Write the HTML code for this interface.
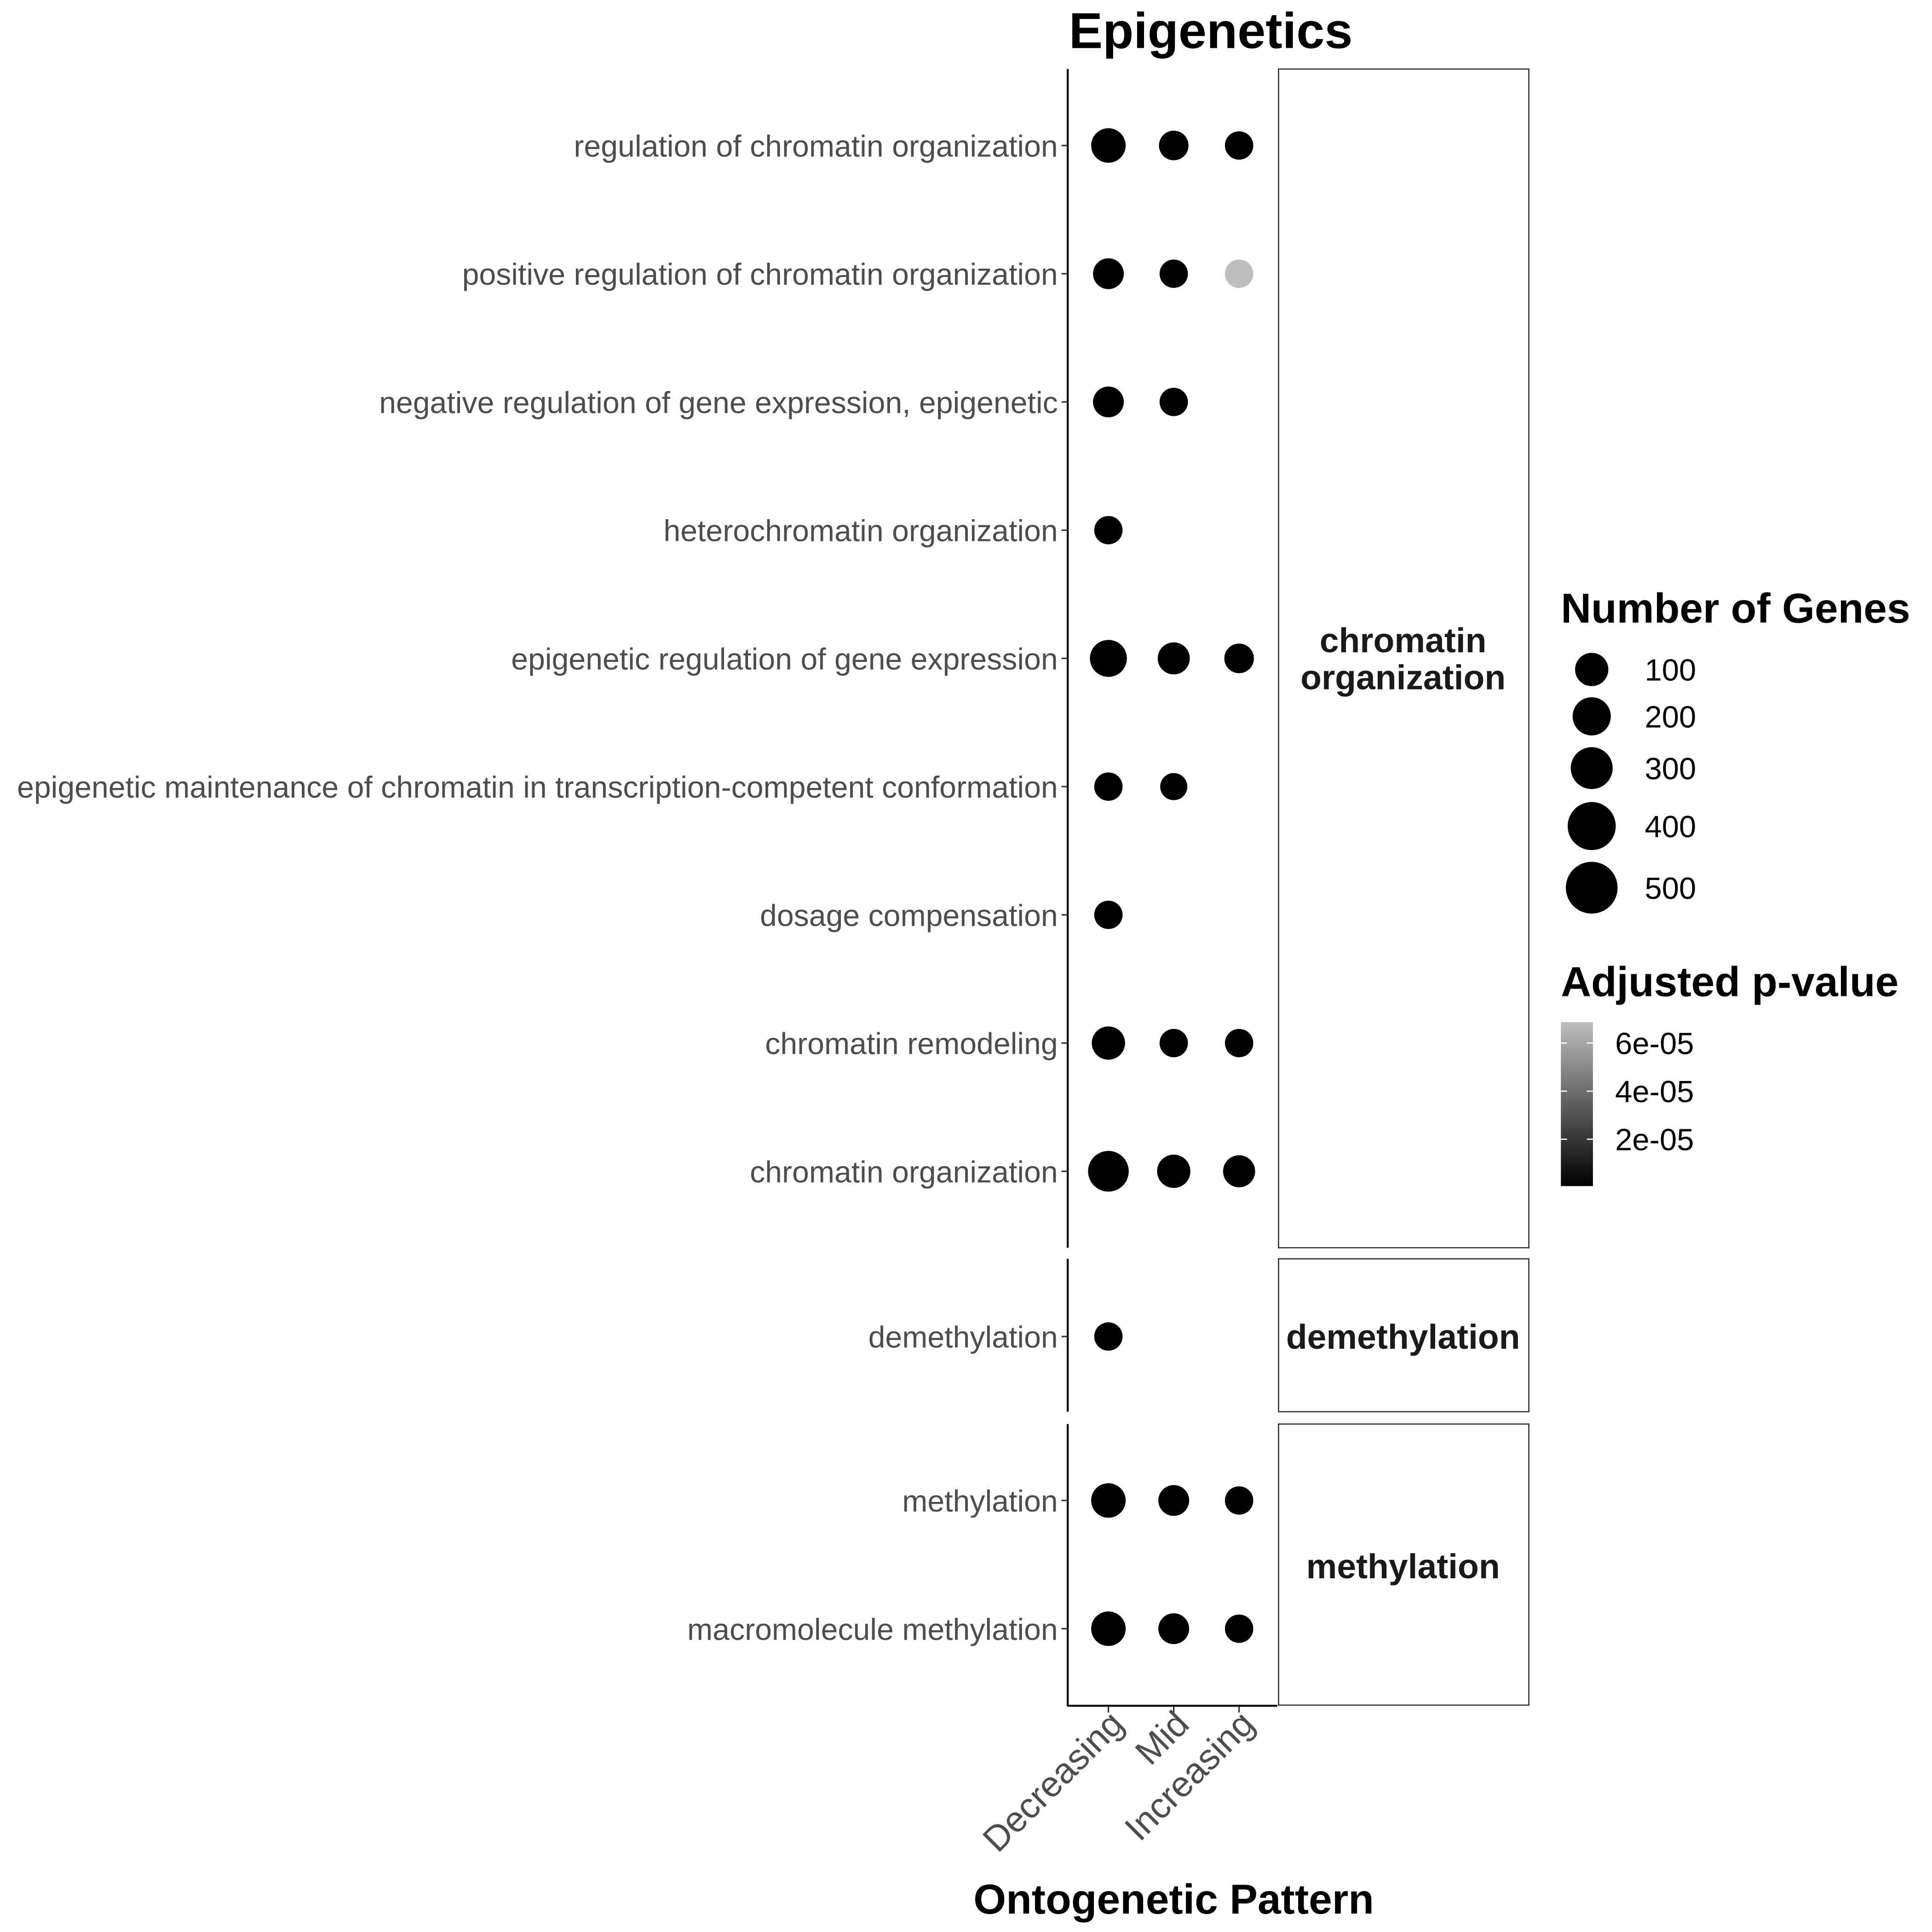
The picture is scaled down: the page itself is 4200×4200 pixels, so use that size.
<!DOCTYPE html>
<html><head><meta charset="utf-8"><style>html,body{margin:0;padding:0;background:#fff}svg{display:block}</style></head>
<body>
<svg xmlns="http://www.w3.org/2000/svg" width="4200" height="4200" viewBox="0 0 1567 1567" font-family="'Liberation Sans', Arial, sans-serif">
<defs><linearGradient id="g" x1="0" y1="1" x2="0" y2="0"><stop offset="0" stop-color="#000"/><stop offset="1" stop-color="#bebebe"/></linearGradient></defs>
<rect width="1567" height="1567" fill="#fff"/>
<text x="867" y="39" font-size="41" font-weight="bold">Epigenetics</text>
<g stroke="#000" stroke-width="1.6">
<line x1="866" y1="56" x2="866" y2="1012"/>
<line x1="866" y1="1021" x2="866" y2="1145"/>
<line x1="866" y1="1155" x2="866" y2="1384"/>
<line x1="866" y1="1383.5" x2="1036" y2="1383.5"/>
</g>
<g fill="none" stroke="#333" stroke-width="1">
<rect x="1037" y="56" width="203" height="956"/>
<rect x="1037" y="1021" width="203" height="124"/>
<rect x="1037" y="1155" width="203" height="228"/>
</g>
<g stroke="#333" stroke-width="1.2">
<line x1="861" y1="118" x2="866" y2="118"/><line x1="861" y1="222" x2="866" y2="222"/><line x1="861" y1="326" x2="866" y2="326"/><line x1="861" y1="430" x2="866" y2="430"/><line x1="861" y1="534" x2="866" y2="534"/><line x1="861" y1="638" x2="866" y2="638"/><line x1="861" y1="742" x2="866" y2="742"/><line x1="861" y1="846" x2="866" y2="846"/><line x1="861" y1="950" x2="866" y2="950"/><line x1="861" y1="1084" x2="866" y2="1084"/><line x1="861" y1="1217" x2="866" y2="1217"/><line x1="861" y1="1321" x2="866" y2="1321"/>
<line x1="899" y1="1384" x2="899" y2="1389"/><line x1="952" y1="1384" x2="952" y2="1389"/><line x1="1005" y1="1384" x2="1005" y2="1389"/>
</g>
<g font-size="24.7" fill="#4d4d4d" text-anchor="end">
<text x="858" y="127">regulation of chromatin organization</text>
<text x="858" y="231">positive regulation of chromatin organization</text>
<text x="858" y="335">negative regulation of gene expression, epigenetic</text>
<text x="858" y="439">heterochromatin organization</text>
<text x="858" y="543">epigenetic regulation of gene expression</text>
<text x="858" y="647">epigenetic maintenance of chromatin in transcription-competent conformation</text>
<text x="858" y="751">dosage compensation</text>
<text x="858" y="855">chromatin remodeling</text>
<text x="858" y="959">chromatin organization</text>
<text x="858" y="1093">demethylation</text>
<text x="858" y="1226">methylation</text>
<text x="858" y="1330">macromolecule methylation</text>
</g>
<g fill="#000">
<circle cx="899" cy="118" r="14"/><circle cx="952" cy="118" r="12"/><circle cx="1005" cy="118" r="11.5"/>
<circle cx="899" cy="222" r="12.5"/><circle cx="952" cy="222" r="11.5"/><circle cx="1005" cy="222" r="11.5" fill="#bebebe"/>
<circle cx="899" cy="326" r="12.5"/><circle cx="952" cy="326" r="11.5"/>
<circle cx="899" cy="430" r="11.5"/>
<circle cx="899" cy="534" r="15"/><circle cx="952" cy="534" r="13"/><circle cx="1005" cy="534" r="12"/>
<circle cx="899" cy="638" r="11.5"/><circle cx="952" cy="638" r="11"/>
<circle cx="899" cy="742" r="11.5"/>
<circle cx="899" cy="846" r="13.5"/><circle cx="952" cy="846" r="11.5"/><circle cx="1005" cy="846" r="11.5"/>
<circle cx="899" cy="950" r="16.5"/><circle cx="952" cy="950" r="13.5"/><circle cx="1005" cy="950" r="13"/>
<circle cx="899" cy="1084" r="11.5"/>
<circle cx="899" cy="1217" r="14"/><circle cx="952" cy="1217" r="12.5"/><circle cx="1005" cy="1217" r="11.5"/>
<circle cx="899" cy="1321" r="14"/><circle cx="952" cy="1321" r="12.5"/><circle cx="1005" cy="1321" r="11.5"/>
</g>
<g font-size="28" font-weight="bold" fill="#1a1a1a" text-anchor="middle">
<text x="1138" y="529">chromatin</text>
<text x="1138" y="559">organization</text>
<text x="1138" y="1094">demethylation</text>
<text x="1138" y="1280">methylation</text>
</g>
<g font-size="29" fill="#4d4d4d" text-anchor="end">
<text transform="translate(913,1400) rotate(-45)">Decreasing</text>
<text transform="translate(966,1400) rotate(-45)">Mid</text>
<text transform="translate(1019,1400) rotate(-45)">Increasing</text>
</g>
<text x="952" y="1552" font-size="34" font-weight="bold" text-anchor="middle">Ontogenetic Pattern</text>
<text x="1266" y="505" font-size="34" font-weight="bold">Number of Genes</text>
<g fill="#000">
<circle cx="1291" cy="543" r="13.5"/><circle cx="1291" cy="581" r="15.5"/><circle cx="1291" cy="623" r="17"/><circle cx="1291" cy="670" r="19.5"/><circle cx="1291" cy="720" r="21"/>
</g>
<g font-size="25" fill="#000">
<text x="1334" y="552">100</text><text x="1334" y="590">200</text><text x="1334" y="632">300</text><text x="1334" y="679">400</text><text x="1334" y="729">500</text>
</g>
<text x="1266" y="808" font-size="34" font-weight="bold">Adjusted p-value</text>
<rect x="1266" y="829" width="26" height="133" fill="url(#g)"/>
<g stroke="#fff" stroke-width="1">
<line x1="1266" y1="846" x2="1271" y2="846"/><line x1="1287" y1="846" x2="1292" y2="846"/>
<line x1="1266" y1="885" x2="1271" y2="885"/><line x1="1287" y1="885" x2="1292" y2="885"/>
<line x1="1266" y1="924" x2="1271" y2="924"/><line x1="1287" y1="924" x2="1292" y2="924"/>
</g>
<g font-size="25" fill="#000">
<text x="1310" y="855">6e-05</text><text x="1310" y="894">4e-05</text><text x="1310" y="933">2e-05</text>
</g>
</svg>
</body></html>
